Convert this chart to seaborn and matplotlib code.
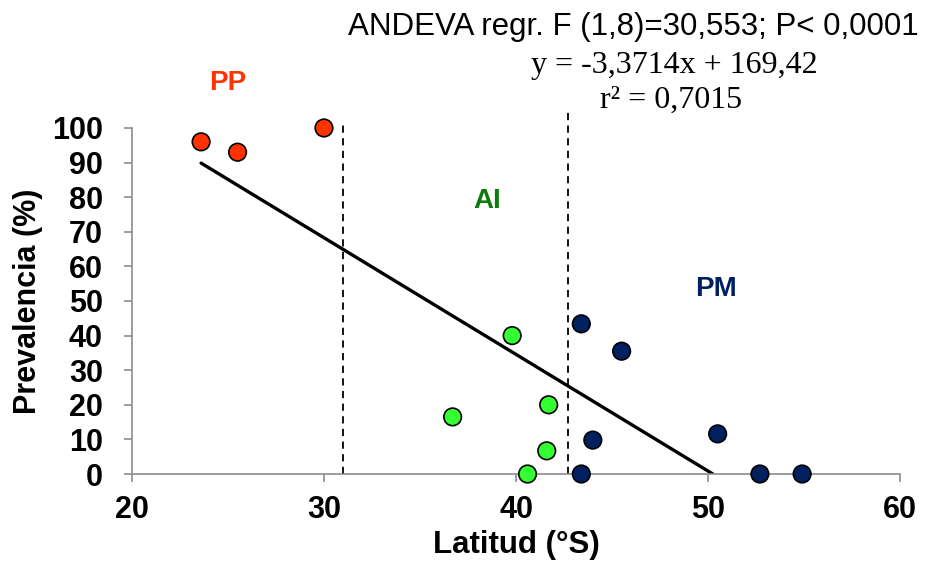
import matplotlib
matplotlib.use("Agg")
import matplotlib.pyplot as plt
import seaborn as sns
import numpy as np
import pandas as pd
from matplotlib import font_manager

sns.set_theme(style="white")
plt.rcParams['font.family'] = ['Liberation Sans', 'DejaVu Sans']
plt.rcParams['text.color'] = 'black'
plt.rcParams['axes.labelcolor'] = 'black'
plt.rcParams['xtick.labelcolor'] = 'black'
plt.rcParams['ytick.labelcolor'] = 'black'

# Data
pp_lat = [23.6, 25.5, 30.0]
pp_prev = [96.0, 93.0, 100.0]
ai_lat = [39.8, 36.7, 41.7, 41.6, 40.6]
ai_prev = [40.0, 16.5, 20.0, 6.7, 0.0]
pm_lat = [43.4, 45.5, 44.0, 50.5, 43.4, 52.7, 54.9]
pm_prev = [43.4, 35.5, 9.8, 11.6, 0.0, 0.0, 0.0]
slope, intercept = -3.3714, 169.42
boundaries = [31.0, 42.7]
boundary_tops = [101.8, 104.5]
xticks = [20, 30, 40, 50, 60]
yticks = [0, 10, 20, 30, 40, 50, 60, 70, 80, 90, 100]

df = pd.DataFrame({
    "lat": pp_lat + ai_lat + pm_lat,
    "prev": pp_prev + ai_prev + pm_prev,
    "zona": ["PP"] * len(pp_lat) + ["AI"] * len(ai_lat) + ["PM"] * len(pm_lat),
})
palette = {"PP": "#FF3300", "AI": "#33FF33", "PM": "#002060"}

installed = {f.name for f in font_manager.fontManager.ttflist}
narrow = ["Liberation Sans Narrow", "Liberation Sans"] if "Liberation Sans Narrow" in installed else ["Liberation Sans"]
zone_size = 22 if "Liberation Sans Narrow" in installed else 20

fig = plt.figure(figsize=(9.26, 5.77), dpi=100)
ax = fig.add_axes([0.1425, 0.1785, 0.8295, 0.5997])

# Regression line from min latitude to x-intercept
x0 = min(df["lat"])
x1 = -intercept / slope
line_df = pd.DataFrame({"lat": [x0, x1], "prev": [slope * x0 + intercept, slope * x1 + intercept]})
sns.lineplot(data=line_df, x="lat", y="prev", color="black", linewidth=2.4, ax=ax, zorder=2)

# Boundaries
for b, top in zip(boundaries, boundary_tops):
    ax.plot([b, b], [0, top], color="black", linestyle=(0, (4, 3)), linewidth=1.3,
            clip_on=False, zorder=1)

sns.scatterplot(data=df, x="lat", y="prev", hue="zona", palette=palette, s=160,
                edgecolor="black", linewidth=1.2, legend=False, ax=ax, zorder=3,
                clip_on=False)

ax.set_xlim(20, 60)
ax.set_ylim(0, 100)
ax.set_xticks(xticks)
ax.set_yticks(yticks)
ax.set_xticklabels([str(t) for t in xticks], fontsize=22, fontweight="bold")
ax.set_yticklabels([str(t) for t in yticks], fontsize=22, fontweight="bold")
ax.tick_params(axis="both", which="both", direction="out", length=6, width=1.2,
               color="#8c8c8c", left=True, bottom=True)
ax.tick_params(axis="y", pad=15)
ax.tick_params(axis="x", pad=9)
for side in ["top", "right"]:
    ax.spines[side].set_visible(False)
for side in ["left", "bottom"]:
    ax.spines[side].set_color("#8c8c8c")
    ax.spines[side].set_linewidth(1.2)

ax.set_xlabel("Latitud (°S)", fontsize=22.5, fontweight="bold", labelpad=4)
ax.set_ylabel("Prevalencia (%)", fontsize=22, fontweight="bold", labelpad=6)

# Zone labels
ax.text(25.0, 113, "PP", color="#FF3300", fontsize=zone_size, fontweight="bold",
        ha="center", va="center", clip_on=False, family=narrow)
ax.text(38.5, 79, "AI", color="#0E7A0E", fontsize=zone_size, fontweight="bold",
        ha="center", va="center", family=narrow)
ax.text(50.4, 53.5, "PM", color="#002060", fontsize=zone_size, fontweight="bold",
        ha="center", va="center", family=narrow)

# Annotations
fig.text(633 / 926, 1 - 27 / 577, "ANDEVA regr. F (1,8)=30,553; P< 0,0001",
         fontsize=22.5, ha="center", va="center", color="black")
fig.text(674 / 926, 1 - 65 / 577, "y = -3,3714x + 169,42", fontsize=23,
         ha="center", va="center", color="black",
         family=["Liberation Serif", "DejaVu Serif"])
fig.text(671 / 926, 1 - 100 / 577, "r² = 0,7015", fontsize=23,
         ha="center", va="center", color="black",
         family=["Liberation Serif", "DejaVu Serif"])

fig.savefig("out.png", dpi=100, facecolor="white")
